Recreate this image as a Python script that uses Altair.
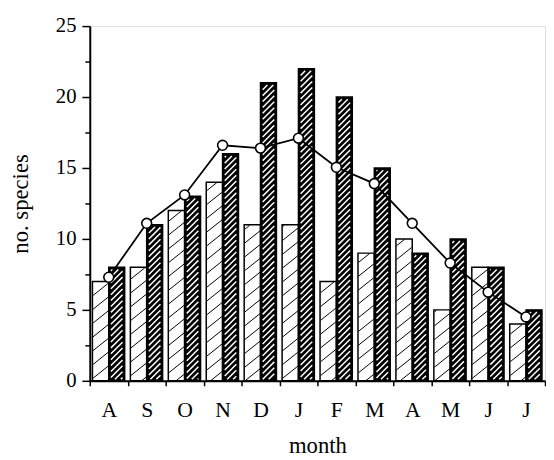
import math
import json
import altair as alt
import pandas as pd

# ---- data ----
months = ["A", "S", "O", "N", "D", "J", "F", "M", "A", "M", "J", "J"]
light_vals = [7, 8, 12, 14, 11, 11, 7, 9, 10, 5, 8, 4]
dark_vals = [8, 11, 13, 16, 21, 22, 20, 15, 9, 10, 8, 5]
line_vals = [7.3, 11.1, 13.1, 16.6, 16.4, 17.1, 15.05, 13.9, 11.1, 8.3, 6.25, 4.5]
y_major = [0, 5, 10, 15, 20, 25]
y_minor = [2.5, 7.5, 12.5, 17.5, 22.5]

# ---- layout ----
W, H = 462, 360
N = len(months)
YMAX = 25
PXM = W / N      # px per month
PXU = H / YMAX   # px per unit
FONT = "Liberation Serif"

LIGHT_L, MID, DARK_R = 0.07, 0.5, 0.92


def hatch(x0, x1, top, k, s, inset_x=0.0, inset_top=0.0, inset_bot=0.0):
    """Diagonal hatch segments inside a bar (data units in, data units out)."""
    X0 = x0 * PXM + inset_x
    X1 = x1 * PXM - inset_x
    Y0 = inset_bot
    Y1 = top * PXU - inset_top
    segs = []
    if X1 <= X0 or Y1 <= Y0:
        return segs
    cmin = Y0 - k * X1
    cmax = Y1 - k * X0
    for j in range(math.ceil(cmin / s), math.floor(cmax / s) + 1):
        c = j * s
        xa = max(X0, (Y0 - c) / k)
        xb = min(X1, (Y1 - c) / k)
        if xb - xa > 0.4:
            segs.append({
                "hx": xa / PXM, "hy": (k * xa + c) / PXU,
                "hx2": xb / PXM, "hy2": (k * xb + c) / PXU,
            })
    return segs


light_df = pd.DataFrame({
    "x0": [i + LIGHT_L for i in range(N)],
    "x1": [i + MID for i in range(N)],
    "v": light_vals,
})
dark_df = pd.DataFrame({
    "x0": [i + MID for i in range(N)],
    "x1": [i + DARK_R for i in range(N)],
    "v": dark_vals,
})
line_df = pd.DataFrame({"xc": [i + MID for i in range(N)], "v": line_vals})

light_h = []
for r in light_df.itertuples():
    light_h += hatch(r.x0, r.x1, r.v, k=0.8, s=14.0, inset_x=0.5, inset_top=0.5)
dark_h = []
for r in dark_df.itertuples():
    dark_h += hatch(r.x0, r.x1, r.v, k=1.0, s=6.0, inset_x=2.2, inset_top=2.2, inset_bot=1.5)
light_h_df = pd.DataFrame(light_h)
dark_h_df = pd.DataFrame(dark_h)

xscale = alt.Scale(domain=[0, N], nice=False, zero=False)
yscale = alt.Scale(domain=[0, YMAX], nice=False)

label_expr = ("datum.value % 1 == 0.5 ? " + json.dumps(months)
              + "[floor(datum.value)] : ''")
x_axis = alt.Axis(
    values=[i * 0.5 for i in range(2 * N + 1)],
    labelExpr=label_expr,
    tickOpacity={"condition": {"test": "datum.value % 1 != 0", "value": 0}, "value": 1},
    tickSize=5, tickWidth=1.5, tickColor="black",
    domainColor="black", domainWidth=2,
    labelFont=FONT, labelFontSize=22, labelColor="black", labelPadding=14,
    labelOverlap=False, labelFlush=False,
    grid=False,
    title="month", titleFont=FONT, titleFontSize=23, titleFontWeight="normal",
    titleColor="black", titleY=73, titleBaseline="alphabetic",
)
y_axis_major = alt.Axis(
    values=y_major, tickSize=8, tickWidth=1.5, tickColor="black",
    domainColor="black", domainWidth=2,
    labelFont=FONT, labelFontSize=21, labelColor="black", labelPadding=6,
    grid=False, orient="left",
    title="no. species", titleFont=FONT, titleFontSize=23, titleFontWeight="normal",
    titleColor="black", titleX=-63, titleY=H / 2, titleBaseline="alphabetic",
    titleAlign="center",
)
y_axis_minor = alt.Axis(
    values=y_minor, tickSize=5, tickWidth=1.5, tickColor="black",
    labels=False, domain=False, grid=False, orient="left", title=None,
)

light_bars = alt.Chart(light_df).mark_rect(
    fill="white", stroke="black", strokeWidth=1.5
).encode(
    x=alt.X("x0:Q", scale=xscale, axis=x_axis),
    x2="x1:Q",
    y=alt.Y("v:Q", scale=yscale, axis=y_axis_major),
    y2=alt.datum(0),
)
light_hatch = alt.Chart(light_h_df).mark_rule(
    color="black", strokeWidth=1
).encode(
    x=alt.X("hx:Q", scale=xscale, axis=x_axis),
    y=alt.Y("hy:Q", scale=yscale, axis=None),
    x2="hx2:Q", y2="hy2:Q",
)
dark_bars = alt.Chart(dark_df).mark_rect(
    fill="black", stroke="black", strokeWidth=1.5
).encode(
    x=alt.X("x0:Q", scale=xscale, axis=x_axis),
    x2="x1:Q",
    y=alt.Y("v:Q", scale=yscale, axis=None),
    y2=alt.datum(0),
)
dark_hatch = alt.Chart(dark_h_df).mark_rule(
    color="white", strokeWidth=1.5
).encode(
    x=alt.X("hx:Q", scale=xscale, axis=x_axis),
    y=alt.Y("hy:Q", scale=yscale, axis=None),
    x2="hx2:Q", y2="hy2:Q",
)
line = alt.Chart(line_df).mark_line(color="black", strokeWidth=1.8).encode(
    x=alt.X("xc:Q", scale=xscale, axis=x_axis),
    y=alt.Y("v:Q", scale=yscale, axis=y_axis_minor),
)
points = alt.Chart(line_df).mark_point(
    shape="circle", filled=True, fill="white", stroke="black",
    strokeWidth=1.6, size=100, opacity=1
).encode(
    x=alt.X("xc:Q", scale=xscale, axis=x_axis),
    y=alt.Y("v:Q", scale=yscale, axis=None),
)

chart = alt.layer(
    light_bars, light_hatch, dark_bars, dark_hatch, line, points
).resolve_axis(y="independent").properties(
    width=W, height=H,
    autosize=alt.AutoSizeParams(type="none"),
    padding={"left": 83, "top": 15, "right": 1, "bottom": 77},
).configure_view(stroke=None).configure(background="white")

chart.save("out.html", embed_options={"renderer": "svg", "actions": False})
